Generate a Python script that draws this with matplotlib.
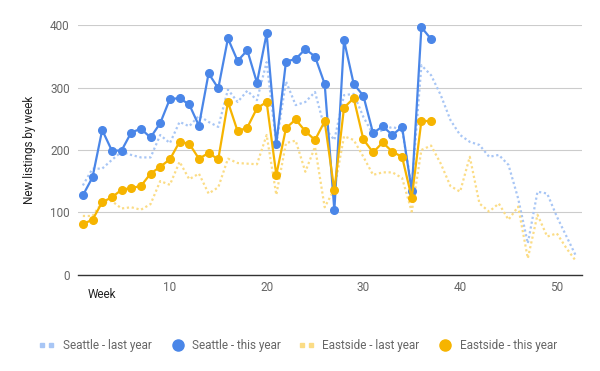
import matplotlib
matplotlib.use("Agg")
import matplotlib.pyplot as plt
from matplotlib.lines import Line2D

plt.rcParams['font.family'] = ['Roboto', 'DejaVu Sans']

weeks_all = list(range(1, 53))
weeks_this = list(range(1, 38))

seattle_last = [143, 170, 170, 184, 197, 192, 188, 188, 224, 211, 245, 238, 255, 245, 237,
                297, 277, 295, 280, 341, 210, 310, 272, 277, 293, 235, 216, 288, 290, 253,
                225, 232, 237, 232, 141, 336, 320, 288, 248, 224, 213, 208, 189, 192, 176,
                122, 50, 133, 130, 93, 61, 29]
seattle_this = [127, 156, 232, 199, 199, 228, 234, 220, 243, 282, 283, 273, 239, 323, 299,
                379, 343, 360, 308, 387, 210, 342, 346, 362, 350, 306, 103, 376, 306, 287,
                227, 238, 224, 237, 134, 397, 378]
eastside_last = [94, 94, 116, 118, 106, 108, 104, 113, 150, 144, 181, 153, 162, 130, 140,
                 186, 179, 178, 177, 224, 128, 211, 215, 165, 205, 108, 137, 222, 216, 189,
                 160, 164, 164, 155, 101, 200, 207, 178, 142, 133, 189, 114, 101, 114, 88,
                 109, 26, 96, 61, 66, 42, 21]
eastside_this = [81, 88, 116, 124, 136, 139, 142, 162, 173, 185, 213, 210, 186, 195, 185,
                 277, 230, 236, 267, 277, 160, 235, 249, 230, 216, 246, 135, 268, 283, 217,
                 196, 212, 197, 189, 123, 247, 246]

series_names = ["Seattle - last year", "Seattle - this year",
                "Eastside - last year", "Eastside - this year"]
x_ticks = [10, 20, 30, 40, 50]
y_ticks = [0, 100, 200, 300, 400]

BLUE = "#4a86e8"
ORANGE = "#f6b400"
BLUE_L = "#a8c6f5"
ORANGE_L = "#fbdc85"

fig = plt.figure(figsize=(6.0, 3.71), dpi=100)
ax = fig.add_axes([78/600, 1-274.5/371, (582-78)/600, (274.5-25.4)/371])

dash = (0, (1.0, 1.2))
ax.plot(weeks_all, seattle_last, color=BLUE_L, lw=1.6, linestyle=dash, zorder=2)
ax.plot(weeks_this, seattle_this, color=BLUE, lw=1.6, marker='o', ms=5.5, zorder=4, clip_on=False)
ax.plot(weeks_all, eastside_last, color=ORANGE_L, lw=1.6, linestyle=dash, zorder=3)
ax.plot(weeks_this, eastside_this, color=ORANGE, lw=1.6, marker='o', ms=5.5, zorder=5, clip_on=False)

ax.set_xlim(0.5, 52.6)
ax.set_ylim(0, 400)
ax.set_yticks(y_ticks)
ax.set_xticks(x_ticks)
ax.grid(axis='y', color='#cccccc', lw=0.8)
ax.set_axisbelow(True)
for s in ['top', 'right', 'left']:
    ax.spines[s].set_visible(False)
ax.spines['bottom'].set_color('#333333')
ax.spines['bottom'].set_linewidth(1.0)
ax.spines['bottom'].set_zorder(1)
ax.tick_params(axis='both', length=0, labelsize=8.5, labelcolor='#666666')
ax.tick_params(axis='y', pad=6)
ax.tick_params(axis='x', pad=5)

ax.set_ylabel("New listings by week", fontsize=8.5, color='#222222', labelpad=10)
fig.text(102/600, 1-294/371, "Week", fontsize=8.5, color='#222222', ha='center', va='center')

# legend
ly = 1 - 345/371
items = [
    (42, 63, BLUE_L, 'sq', series_names[0]),
    (178, 192, BLUE, 'dot', series_names[1]),
    (302, 322, ORANGE_L, 'sq', series_names[2]),
    (445, 460, ORANGE, 'dot', series_names[3]),
]
for mx, tx, col, kind, label in items:
    if kind == 'sq':
        for dx in (0, 9):
            fig.add_artist(Line2D([(mx+dx)/600], [ly], marker='s', ms=3.5, color=col, lw=0,
                                  transform=fig.transFigure))
    else:
        fig.add_artist(Line2D([mx/600], [ly], marker='o', ms=8, color=col, lw=0,
                              transform=fig.transFigure))
    fig.text(tx/600, ly, label, fontsize=8.5, color='#666666', ha='left', va='center')

fig.savefig("out.png", dpi=100)
